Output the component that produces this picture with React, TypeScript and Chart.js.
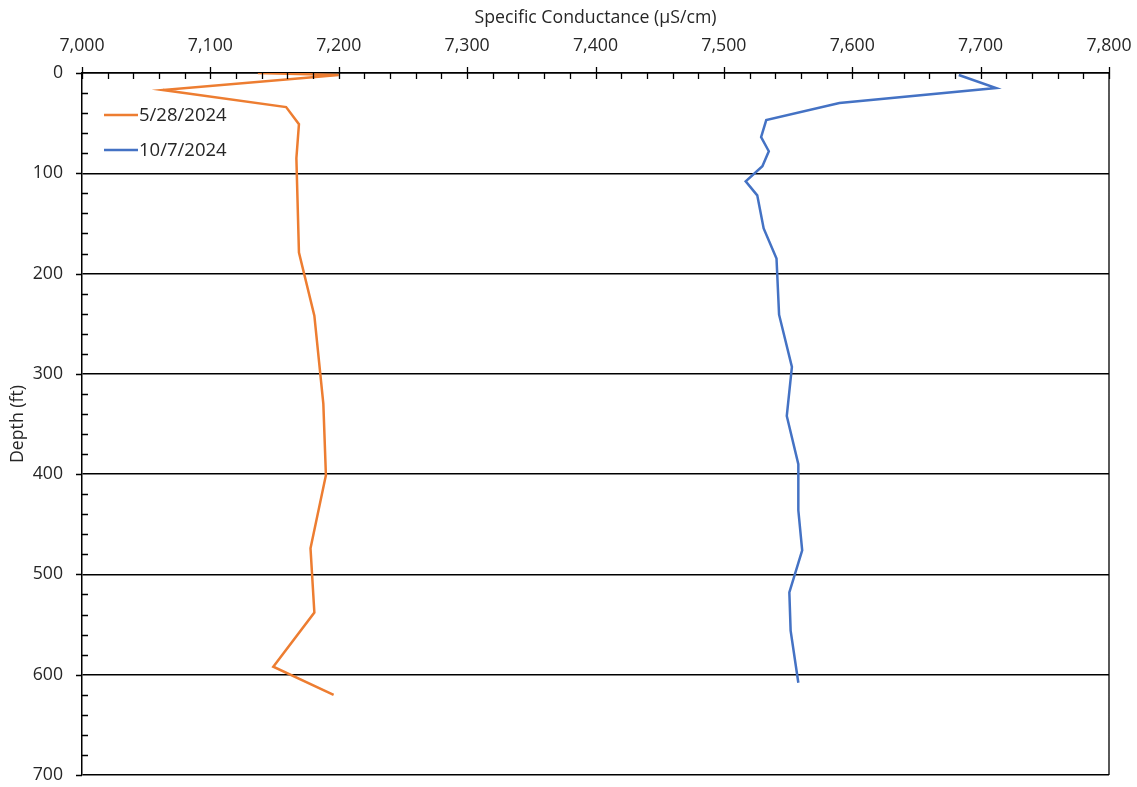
import React, { useEffect, useRef } from "react";
import { Chart, registerables } from "chart.js";

Chart.register(...registerables);

// Series 1: 5/28/2024
const seriesALabel = "5/28/2024";
const seriesADepth = [0, 2, 17, 34, 51, 85, 179, 242, 330, 401, 474, 538, 592, 620];
const seriesACond = [7137, 7200, 7063, 7159, 7169, 7167, 7169, 7181, 7188, 7190, 7178, 7181, 7149, 7196];

// Series 2: 10/7/2024
const seriesBLabel = "10/7/2024";
const seriesBDepth = [2, 15, 30, 47, 64, 78, 93, 108, 122, 155, 185, 241, 293, 342, 390, 436, 476, 518, 556, 608];
const seriesBCond = [7683, 7712, 7590, 7533, 7529, 7535, 7530, 7517, 7526, 7531, 7541, 7543, 7553, 7549, 7558, 7558, 7561, 7551, 7552, 7558];

const xTitle = "Specific Conductance (\u00b5S/cm)";
const yTitle = "Depth (ft)";
const xMin = 7000;
const xMax = 7800;
const yMin = 0;
const yMax = 700;

const FONT = "'Open Sans', sans-serif";
const TEXT = "#262626";
const FS = 17.7;

const tickPlugin = {
  id: "excelTicks",
  afterDraw(chart: any) {
    const { ctx, chartArea } = chart;
    const { left, right, top, bottom } = chartArea;
    const xs = chart.scales.x;
    const ys = chart.scales.y;
    ctx.save();
    ctx.strokeStyle = "#000";
    ctx.lineWidth = 1.3;
    ctx.beginPath();
    for (let v = yMin; v <= yMax; v += 20) {
      const py = Math.round(ys.getPixelForValue(v)) + 0.5;
      if (v % 100 === 0) {
        ctx.moveTo(left - 6, py);
        ctx.lineTo(left, py);
      } else {
        ctx.moveTo(left, py);
        ctx.lineTo(left + 6, py);
      }
    }
    for (let v = xMin; v <= xMax; v += 20) {
      const px = Math.round(xs.getPixelForValue(v)) + 0.5;
      if (v % 100 === 0) {
        ctx.moveTo(px, top - 6);
        ctx.lineTo(px, top + 6);
      } else {
        ctx.moveTo(px, top);
        ctx.lineTo(px, top + 6);
      }
    }
    ctx.moveTo(right, top);
    ctx.lineTo(right, bottom);
    ctx.stroke();

    // legend inside plot
    const items = chart.data.datasets;
    items.forEach((ds: any, i: number) => {
      const ly = 115 + i * 35;
      ctx.beginPath();
      ctx.strokeStyle = ds.borderColor;
      ctx.lineWidth = 2.5;
      ctx.moveTo(104, ly);
      ctx.lineTo(138, ly);
      ctx.stroke();
      ctx.fillStyle = TEXT;
      ctx.font = `18.5px ${FONT}`;
      ctx.textBaseline = "middle";
      ctx.textAlign = "left";
      ctx.fillText(ds.label, 139, ly + 1);
    });
    ctx.restore();
  },
};

export default function App() {
  const ref = useRef<HTMLCanvasElement | null>(null);

  useEffect(() => {
    document.body.style.margin = "0";
    const canvas = ref.current;
    if (!canvas) return;
    const dataA = seriesADepth.map((d, i) => ({ x: seriesACond[i], y: d }));
    const dataB = seriesBDepth.map((d, i) => ({ x: seriesBCond[i], y: d }));
    const chart = new Chart(canvas, {
      type: "scatter",
      data: {
        datasets: [
          {
            label: seriesALabel,
            data: dataA,
            showLine: true,
            borderColor: "#ED7D31",
            backgroundColor: "#ED7D31",
            borderWidth: 2.5,
            pointRadius: 0,
            tension: 0,
          },
          {
            label: seriesBLabel,
            data: dataB,
            showLine: true,
            borderColor: "#4472C4",
            backgroundColor: "#4472C4",
            borderWidth: 2.5,
            pointRadius: 0,
            tension: 0,
          },
        ],
      },
      options: {
        animation: false,
        responsive: false,
        maintainAspectRatio: false,
        layout: { padding: { left: 0, top: 0, right: 28, bottom: 12 } },
        plugins: {
          legend: { display: false },
          tooltip: { enabled: false },
        },
        scales: {
          x: {
            type: "linear",
            position: "top",
            min: xMin,
            max: xMax,
            afterFit(scale: any) {
              scale.height = 73;
              scale.paddingLeft = 0;
              scale.paddingRight = 0;
            },
            ticks: {
              stepSize: 100,
              padding: 16,
              color: TEXT,
              font: { family: FONT, size: FS },
              maxRotation: 0,
              callback: (v: any) => Number(v).toLocaleString("en-US"),
            },
            grid: { display: false, drawTicks: false },
            border: { display: true, color: "#000", width: 1.5 },
            title: {
              display: true,
              text: xTitle,
              color: TEXT,
              font: { family: FONT, size: FS },
              padding: { top: 7, bottom: 0 },
            },
          },
          y: {
            type: "linear",
            reverse: true,
            min: yMin,
            max: yMax,
            afterFit(scale: any) {
              scale.width = 82;
              scale.paddingTop = 0;
              scale.paddingBottom = 0;
            },
            ticks: {
              stepSize: 100,
              padding: 19,
              color: TEXT,
              font: { family: FONT, size: FS },
            },
            grid: {
              display: true,
              drawTicks: false,
              color: "#000",
              lineWidth: 1.5,
            },
            border: { display: true, color: "#000", width: 1.5 },
            title: {
              display: true,
              text: yTitle,
              color: TEXT,
              font: { family: FONT, size: FS },
              padding: { top: 7, bottom: 0 },
            },
          },
        },
      },
      plugins: [tickPlugin],
    });
    return () => chart.destroy();
  }, []);

  return (
    <div style={{ width: 1137, height: 787, background: "#fff" }}>
      <canvas ref={ref} width={1137} height={787} />
    </div>
  );
}
